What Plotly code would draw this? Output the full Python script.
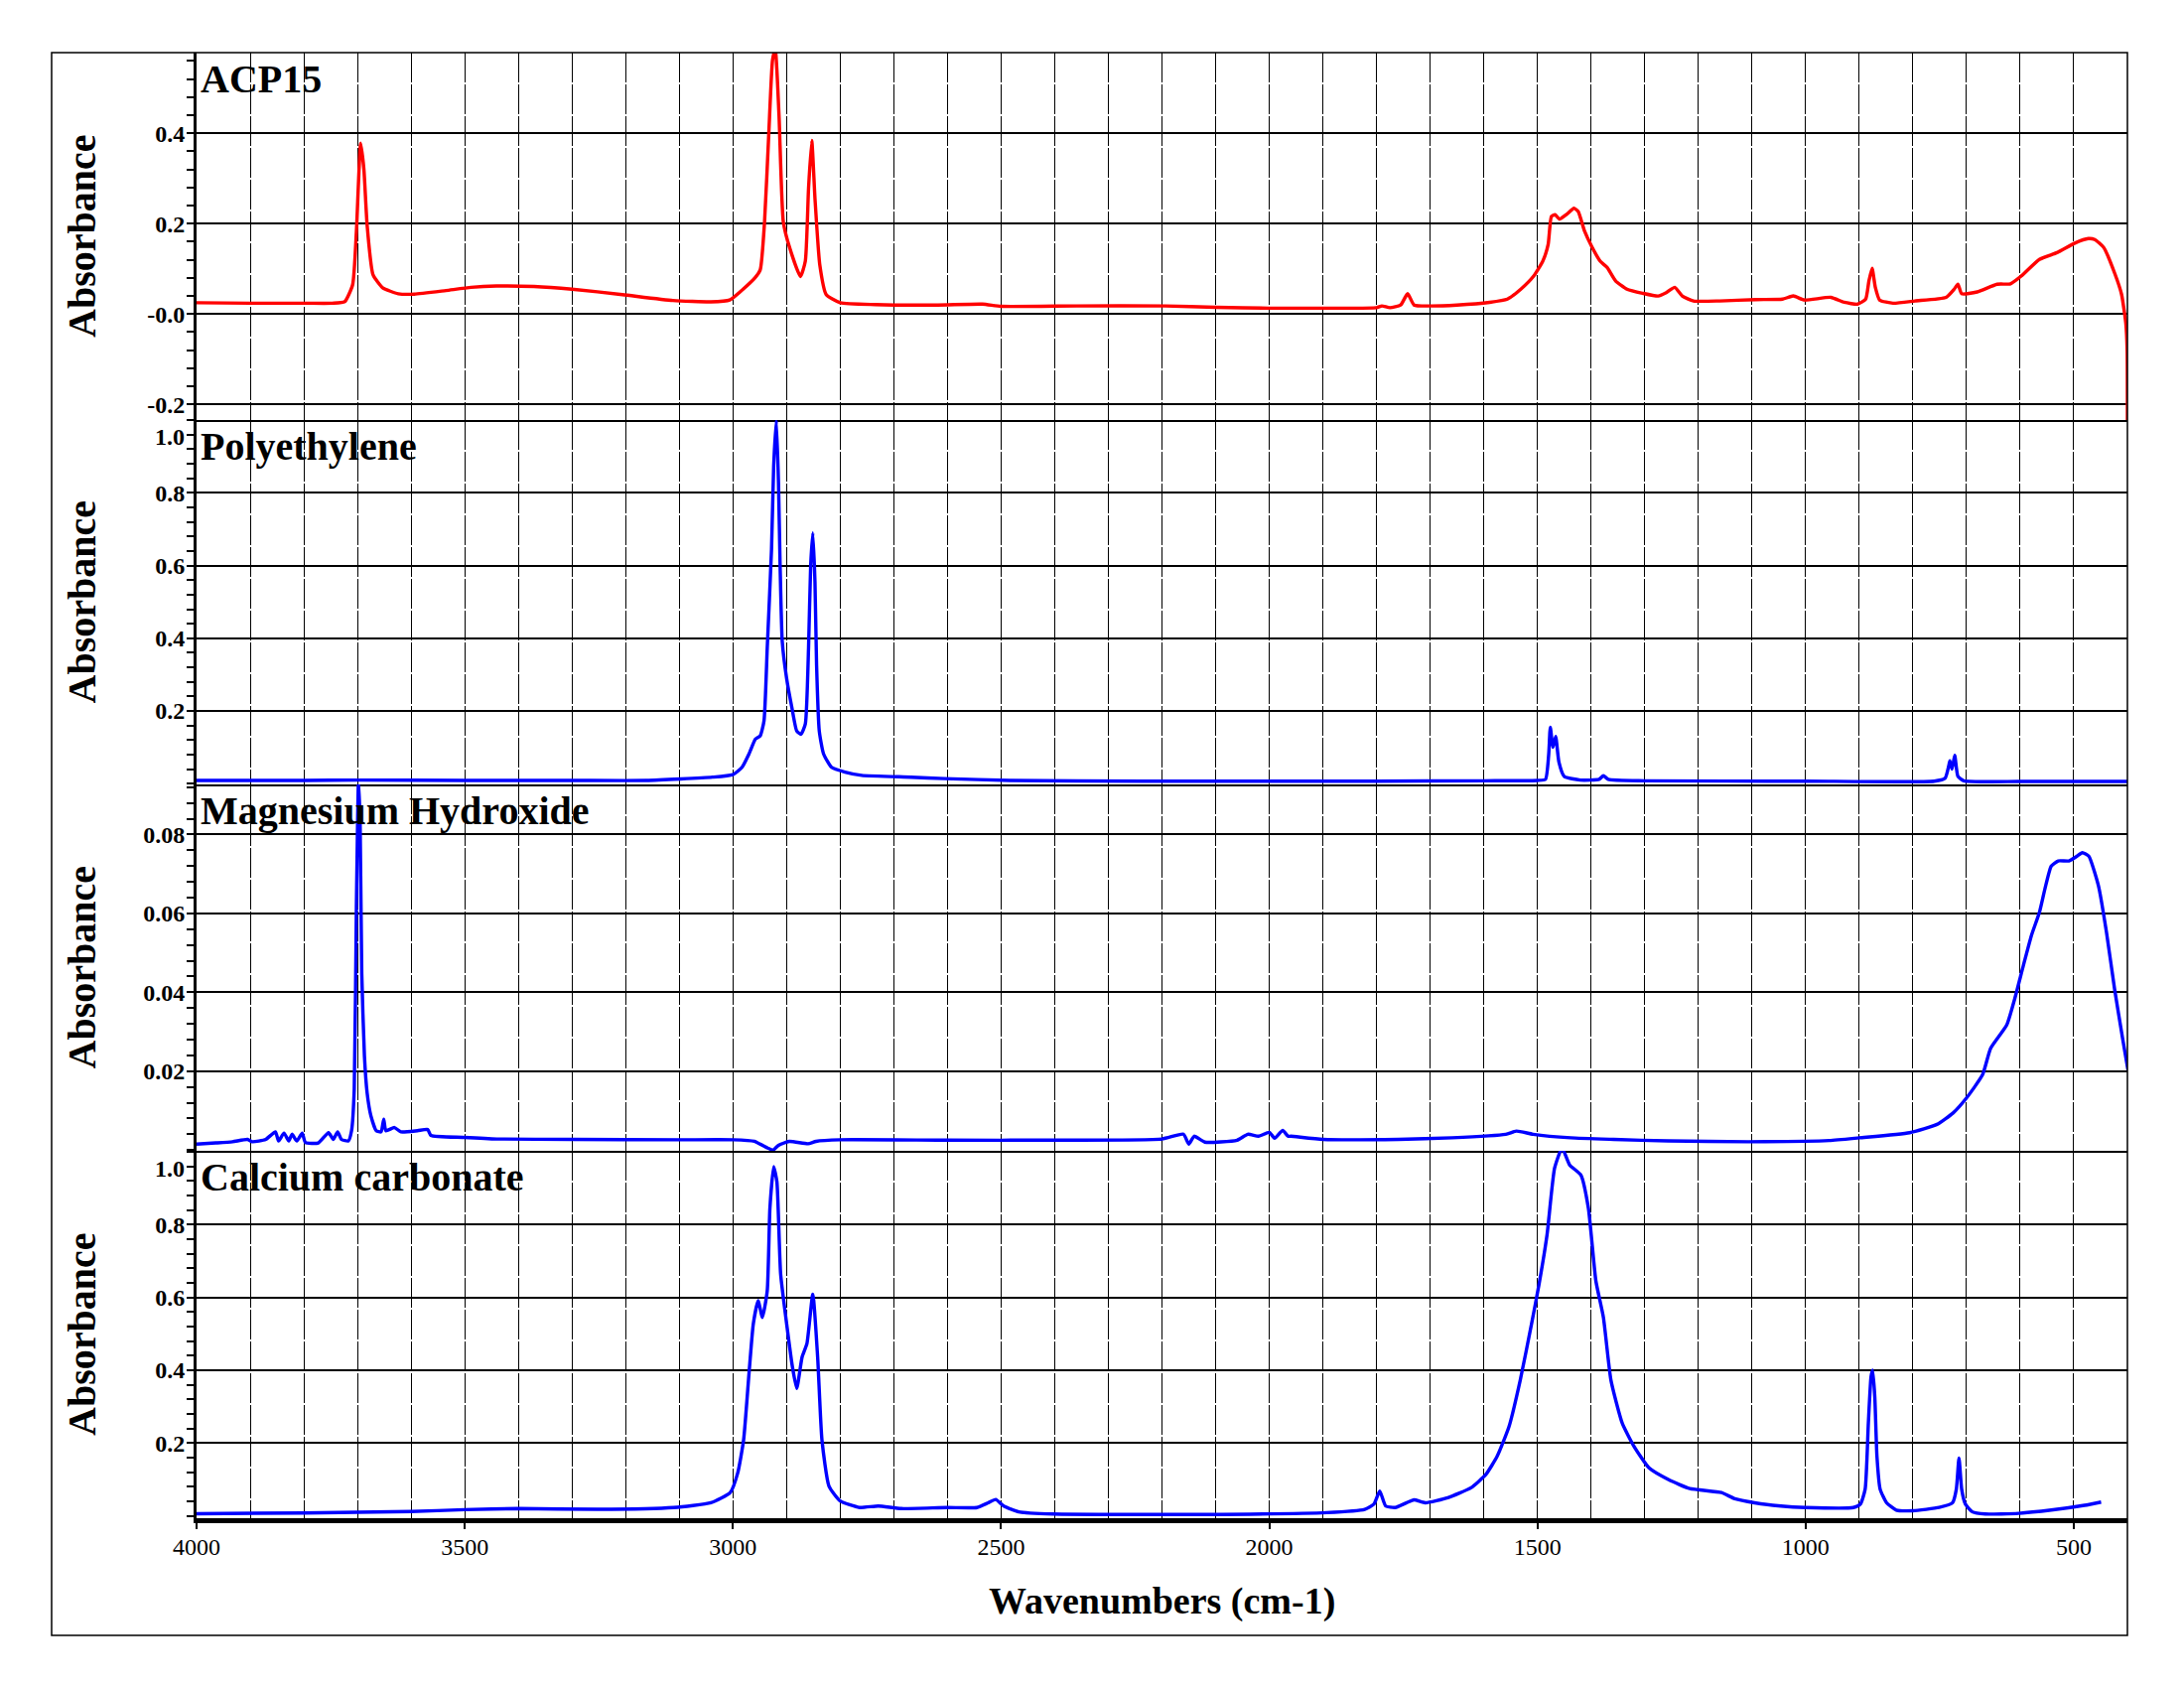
import plotly.graph_objects as go

# ---------------- DATA ----------------
acp15_wn = [4000, 3900, 3800, 3747, 3724, 3709, 3702, 3694, 3688, 3682, 3671, 3653, 3624, 3594, 3535, 3488,
            3441, 3371, 3300, 3206, 3112, 3041, 3006, 2982, 2959, 2949, 2941, 2933, 2926, 2921, 2914, 2906,
            2894, 2874, 2865, 2859, 2853, 2847, 2838, 2826, 2800, 2735, 2618, 2535, 2500, 2359, 2194, 2100,
            2000, 1900, 1800, 1790, 1775, 1755, 1742, 1730, 1700, 1650, 1589, 1556, 1531, 1507, 1490, 1480,
            1474, 1467, 1459, 1445, 1432, 1424, 1412, 1399, 1383, 1370, 1354, 1333, 1304, 1275, 1259, 1244,
            1230, 1209, 1160, 1093, 1043, 1023, 1002, 953, 928, 903, 888, 882, 876, 870, 862, 837, 796, 738,
            723, 716, 709, 680, 643, 618, 598, 564, 531, 498, 473, 461, 444, 423, 411, 403, 400.5, 400]
acp15_abs = [0.025, 0.024, 0.024, 0.024, 0.027, 0.065, 0.182, 0.378, 0.32, 0.197, 0.087, 0.058, 0.045, 0.044,
             0.052, 0.059, 0.062, 0.061, 0.055, 0.043, 0.030, 0.027, 0.031, 0.054, 0.080, 0.098, 0.204, 0.402,
             0.563, 0.585, 0.439, 0.204, 0.146, 0.083, 0.117, 0.278, 0.384, 0.256, 0.109, 0.043, 0.025, 0.021,
             0.020, 0.022, 0.017, 0.018, 0.018, 0.015, 0.013, 0.013, 0.014, 0.018, 0.014, 0.020, 0.045, 0.020,
             0.018, 0.020, 0.026, 0.033, 0.055, 0.084, 0.117, 0.154, 0.216, 0.220, 0.210, 0.221, 0.234, 0.227,
             0.183, 0.150, 0.117, 0.103, 0.073, 0.055, 0.046, 0.040, 0.048, 0.059, 0.040, 0.029, 0.029, 0.032,
             0.033, 0.040, 0.031, 0.037, 0.026, 0.022, 0.033, 0.073, 0.101, 0.059, 0.031, 0.024, 0.029, 0.037,
             0.055, 0.066, 0.045, 0.049, 0.066, 0.067, 0.084, 0.121, 0.136, 0.157, 0.167, 0.165, 0.147, 0.088,
             0.044, -0.02, -0.08, -0.235]

pe_wn = [4000, 3800, 3700, 3500, 3300, 3162, 3038, 3000, 2983, 2970, 2958, 2949, 2942, 2936, 2928, 2924, 2919,
         2915, 2912, 2908, 2900, 2890, 2881, 2873, 2865, 2859, 2855, 2851, 2847, 2844, 2839, 2831, 2816, 2791,
         2760, 2668, 2606, 2483, 2236, 2000, 1800, 1600, 1500, 1485, 1479, 1476, 1471, 1466, 1460, 1450, 1420,
         1385, 1377, 1368, 1300, 1000, 760, 740, 733, 731, 727, 722, 716, 705, 600, 400]
pe_abs = [0.009, 0.009, 0.010, 0.009, 0.009, 0.009, 0.018, 0.025, 0.045, 0.082, 0.123, 0.132, 0.173, 0.373,
          0.645, 0.873, 1.0, 0.827, 0.60, 0.391, 0.291, 0.209, 0.145, 0.136, 0.164, 0.373, 0.60, 0.69, 0.555,
          0.327, 0.145, 0.082, 0.045, 0.032, 0.023, 0.018, 0.014, 0.009, 0.007, 0.007, 0.007, 0.008, 0.009,
          0.012, 0.08, 0.155, 0.10, 0.13, 0.06, 0.02, 0.010, 0.012, 0.022, 0.012, 0.008, 0.007, 0.007, 0.015,
          0.05, 0.063, 0.04, 0.078, 0.02, 0.008, 0.006, 0.006]

mg_wn = [4000, 3964, 3933, 3905, 3896, 3871, 3853, 3847, 3837, 3828, 3822, 3813, 3803, 3797, 3773, 3754, 3745,
         3737, 3730, 3717, 3711, 3706, 3702, 3698, 3695, 3692, 3687, 3682, 3675, 3665, 3656, 3651, 3647, 3631,
         3619, 3588, 3569, 3563, 3502, 3440, 3300, 3100, 3000, 2960, 2935, 2925, 2915, 2895, 2860, 2845, 2800,
         2600, 2400, 2200, 2160, 2150, 2140, 2120, 2060, 2040, 2020, 2000, 1990, 1975, 1965, 1960, 1900, 1759,
         1659, 1559, 1539, 1508, 1438, 1358, 1257, 1107, 956, 900, 806, 755, 725, 700, 670, 655, 625, 610, 594,
         579, 564, 554, 542, 529, 509, 494, 484, 472, 454, 439, 424, 409, 399]
mg_abs = [0.0015, 0.0018, 0.0021, 0.0027, 0.0021, 0.0027, 0.0046, 0.0023, 0.0043, 0.0023, 0.0040, 0.0023,
          0.0043, 0.0019, 0.0018, 0.0044, 0.0027, 0.0046, 0.0027, 0.0023, 0.0049, 0.0154, 0.0616, 0.094,
          0.0826, 0.0448, 0.0238, 0.0145, 0.0087, 0.0049, 0.0046, 0.0078, 0.0049, 0.0057, 0.0046, 0.0049,
          0.0052, 0.0037, 0.0032, 0.0028, 0.0027, 0.0026, 0.0026, 0.0022, 0.0005, 0.0, 0.0012, 0.0022, 0.0016,
          0.0022, 0.0026, 0.0025, 0.0025, 0.0028, 0.0040, 0.0015, 0.0035, 0.0020, 0.0025, 0.0040, 0.0035,
          0.0045, 0.0030, 0.0050, 0.0035, 0.0035, 0.0027, 0.0027, 0.0031, 0.0040, 0.0048, 0.0040, 0.0031,
          0.0027, 0.0023, 0.0021, 0.0024, 0.0031, 0.0044, 0.0065, 0.0094, 0.0132, 0.0191, 0.0258, 0.0317,
          0.0384, 0.0468, 0.0544, 0.0603, 0.0661, 0.0720, 0.0733, 0.0733, 0.0745, 0.0754, 0.0745, 0.0670,
          0.0552, 0.0409, 0.0283, 0.0203]

caco3_wn = [4000, 3800, 3600, 3500, 3400, 3253, 3111, 3041, 3005, 2991, 2980, 2970, 2962, 2953, 2945, 2936,
            2931, 2924, 2918, 2911, 2899, 2889, 2881, 2871, 2862, 2851, 2842, 2834, 2821, 2800, 2764, 2729, 2686,
            2601, 2545, 2524, 2510, 2495, 2467, 2403, 2120, 1893, 1822, 1805, 1794, 1783, 1765, 1744, 1730, 1709,
            1667, 1624, 1596, 1575, 1553, 1532, 1511, 1497, 1482, 1468, 1454, 1440, 1419, 1405, 1391, 1377, 1363,
            1342, 1320, 1292, 1256, 1216, 1157, 1132, 1095, 1046, 1000, 911, 898, 889, 883, 878, 875, 871, 867,
            861, 849, 831, 800, 751, 726, 719, 714, 709, 702, 689, 665, 603, 542, 480, 449]
caco3_abs = [0.006, 0.008, 0.012, 0.017, 0.020, 0.018, 0.023, 0.036, 0.064, 0.118, 0.209, 0.391, 0.527, 0.591,
             0.545, 0.618, 0.845, 0.959, 0.918, 0.664, 0.518, 0.409, 0.350, 0.436, 0.473, 0.609, 0.436, 0.209,
             0.082, 0.041, 0.023, 0.027, 0.020, 0.023, 0.023, 0.036, 0.045, 0.027, 0.011, 0.005, 0.004, 0.009,
             0.018, 0.032, 0.068, 0.027, 0.023, 0.036, 0.044, 0.036, 0.050, 0.077, 0.114, 0.164, 0.245, 0.373,
             0.527, 0.636, 0.773, 0.955, 1.01, 0.964, 0.936, 0.845, 0.645, 0.545, 0.373, 0.255, 0.191, 0.132,
             0.100, 0.075, 0.064, 0.047, 0.036, 0.027, 0.023, 0.023, 0.032, 0.073, 0.255, 0.382, 0.400, 0.327,
             0.164, 0.073, 0.036, 0.016, 0.014, 0.023, 0.036, 0.073, 0.159, 0.073, 0.032, 0.011, 0.005, 0.007,
             0.016, 0.029, 0.038]

panel_names = ["ACP15", "Polyethylene", "Magnesium Hydroxide", "Calcium carbonate"]
panel_colors = ["#ff0000", "#0000ff", "#0000ff", "#0000ff"]
panel_ranges = [[-0.2345, 0.5785], [-0.002, 1.0003], [-0.0002, 0.0927], [-0.0064, 1.0026]]
panel_tickvals = [[-0.2, 0.0, 0.2, 0.4], [0.2, 0.4, 0.6, 0.8], [0.02, 0.04, 0.06, 0.08], [0.2, 0.4, 0.6, 0.8]]
panel_ticktext = [["-0.2", "-0.0", "0.2", "0.4"], ["0.2", "0.4", "0.6", "0.8"],
                  ["0.02", "0.04", "0.06", "0.08"], ["0.2", "0.4", "0.6", "0.8"]]
panel_minor = [0.04, 0.04, 0.004, 0.04]
x_tickvals = [4000, 3500, 3000, 2500, 2000, 1500, 1000, 500]
x_ticktext = ["4000", "3500", "3000", "2500", "2000", "1500", "1000", "500"]

series = [(acp15_wn, acp15_abs), (pe_wn, pe_abs), (mg_wn, mg_abs), (caco3_wn, caco3_abs)]

# ---------------- LAYOUT ----------------
W, H = 2200, 1700
def fx(p): return p / W
def fy(p): return 1 - p / H

PL, PR = 198, 2143
panel_px = [(53, 423), (423, 790), (790, 1159), (1159, 1529)]
SERIF = "Liberation Serif, Times New Roman, serif"
DASH = "30px,2px"

fig = go.Figure()
layout = dict(width=W, height=H, margin=dict(l=0, r=0, t=0, b=0, autoexpand=False),
              paper_bgcolor="white", plot_bgcolor="white", showlegend=False)

for i, ((wn, ab), color) in enumerate(zip(series, panel_colors)):
    k = "" if i == 0 else str(i + 1)
    fig.add_trace(go.Scatter(x=wn, y=ab, mode="lines",
                             line=dict(color=color, width=3.4, shape="spline", smoothing=0.5),
                             xaxis="x" + k, yaxis="y" + k, hoverinfo="skip"))
    top, bot = panel_px[i]
    last = (i == 3)
    layout["xaxis" + k] = dict(
        domain=[fx(PL), fx(PR)], anchor="y" + k, range=[4000, 400], automargin=False,
        tickmode="array", tickvals=x_tickvals, ticktext=x_ticktext,
        showticklabels=last, ticks="outside" if last else "", ticklen=6, tickwidth=1.5, tickcolor="black",
        tickfont=dict(family=SERIF, size=24, color="black"), ticklabelstandoff=-3,
        showgrid=True, gridcolor="black", gridwidth=1.2, griddash=DASH,
        minor=dict(tickmode="linear", tick0=0, dtick=100, showgrid=True, gridcolor="black", gridwidth=1.2,
                   griddash=DASH, ticks=""),
        showline=True, linecolor="black", linewidth=5 if last else 2, zeroline=False,
        matches=None if i == 0 else "x")
    layout["yaxis" + k] = dict(
        domain=[fy(bot), fy(top)], anchor="x" + k, range=panel_ranges[i], automargin=False,
        tickmode="array", tickvals=panel_tickvals[i], ticktext=panel_ticktext[i],
        ticks="outside", ticklen=7, tickwidth=1.5, tickcolor="black", ticklabelstandoff=-3,
        tickfont=dict(family=SERIF, size=24, color="black", weight="bold"),
        showgrid=True, gridcolor="black", gridwidth=1.5, zeroline=False,
        showline=True, linecolor="black", linewidth=3,
        minor=dict(tickmode="linear", tick0=0, dtick=panel_minor[i], ticks="outside", ticklen=7,
                   tickwidth=1.5, tickcolor="black", showgrid=False))

annotations = []
for i, name in enumerate(panel_names):
    top, bot = panel_px[i]
    annotations.append(dict(text=name, x=fx(200), y=fy(top + 2), xref="paper", yref="paper",
                            xanchor="left", yanchor="top", showarrow=False,
                            font=dict(family=SERIF, size=40, color="black", weight="bold")))
    annotations.append(dict(text="Absorbance", x=fx(82), y=fy((top + bot) / 2), xref="paper", yref="paper",
                            xanchor="center", yanchor="middle", textangle=-90, showarrow=False,
                            font=dict(family=SERIF, size=40, color="black", weight="bold")))
for py in (440, 1177):
    annotations.append(dict(text="1.0", x=fx(188), y=fy(py), xref="paper", yref="paper",
                            xanchor="right", yanchor="middle", showarrow=False,
                            font=dict(family=SERIF, size=24, color="black", weight="bold")))
annotations.append(dict(text="Wavenumbers (cm-1)", x=fx(1170), y=fy(1612), xref="paper", yref="paper",
                        xanchor="center", yanchor="middle", showarrow=False,
                        font=dict(family=SERIF, size=38, color="black", weight="bold")))
layout["annotations"] = annotations
layout["shapes"] = [dict(type="rect", xref="paper", yref="paper", x0=fx(52), x1=fx(2143),
                         y0=fy(1647), y1=fy(53), line=dict(color="black", width=1.5), layer="above")]

fig.update_layout(**layout)
fig.write_html("out.html")
